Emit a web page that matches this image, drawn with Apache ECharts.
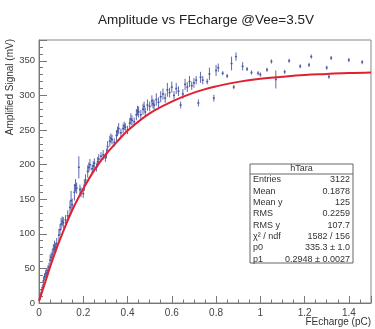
<!DOCTYPE html>
<html><head><meta charset="utf-8">
<script src="https://cdn.jsdelivr.net/npm/echarts@6/dist/echarts.min.js"></script>
<style>html,body{margin:0;padding:0;background:#fff}#c{width:375px;height:329px}</style>
</head><body><div id="c"></div>
<script>
// Profile points: charge (pC), mean amplitude (mV), error (mV)
const charge = [0.005,0.01,0.015,0.02,0.025,0.03,0.035,0.04,0.045,0.05,0.055,0.06,0.065,0.07,0.075,0.08,0.09,0.095,0.10,0.105,0.11,0.12,0.13,0.14,0.145,0.15,0.16,0.165,0.17,0.18,0.185,0.19,0.20,0.205,0.21,0.22,0.225,0.23,0.24,0.245,0.25,0.26,0.265,0.27,0.28,0.29,0.30,0.305,0.31,0.32,0.325,0.33,0.34,0.35,0.355,0.36,0.37,0.38,0.385,0.39,0.40,0.41,0.415,0.42,0.43,0.44,0.445,0.45,0.46,0.47,0.475,0.48,0.49,0.50,0.51,0.515,0.52,0.53,0.54,0.55,0.56,0.57,0.58,0.59,0.60,0.61,0.62,0.63,0.64,0.65,0.66,0.67,0.68,0.69,0.70,0.71,0.72,0.73,0.74,0.76,0.77,0.79,0.80,0.81,0.83,0.85,0.87,0.88,0.89,0.92,0.94,0.96,0.99,1.00,1.03,1.05,1.07,1.11,1.13,1.18,1.22,1.23,1.30,1.31,1.32,1.40,1.46];
const amplitude = [8,14,22,32,38,42,44,47,52,62,66,70,78,82,80,86,98,106,114,118,116,120,126,138,148,142,160,170,166,196,164,160,158,170,178,190,196,200,194,198,202,196,204,208,212,214,210,216,226,234,238,236,232,242,248,252,246,252,256,254,250,260,266,264,262,272,278,276,272,280,284,276,286,284,292,288,286,294,290,298,302,296,308,304,312,300,310,306,286,302,316,312,320,314,318,322,289,326,322,320,331,296,336,340,332,328,346,312,356,342,338,333,332,330,337,349,323,334,350,342,344,356,340,327,354,351,348];
const amplitudeErr = [4,5,5,6,5,6,5,7,6,8,7,8,7,8,7,8,9,8,9,7,8,7,8,10,14,9,12,9,8,16,7,7,6,8,8,9,7,8,6,7,7,6,7,7,6,7,6,7,8,8,7,7,6,8,7,8,6,7,6,6,6,7,8,7,6,8,7,8,7,8,7,6,8,7,8,7,7,9,7,8,8,7,10,7,8,6,8,7,5,7,8,7,8,6,7,6,5,8,6,4,9,5,8,6,3,3,10,3,6,6,3,3,3,3,3,3,13,3,3,3,3,3,3,3,3,3,3];
// Fit curve
const fitX = [0,0.025,0.05,0.075,0.1,0.15,0.2,0.25,0.3,0.35,0.4,0.5,0.6,0.7,0.8,0.9,1.0,1.1,1.2,1.3,1.4,1.5];
const fitY = [3,27,52,75,96,134,165,192,214,232,249,274,291,304,313,319.5,324,327,329.5,331,332.4,333.2];
// Axis ticks
const xTicks = [0,0.2,0.4,0.6,0.8,1,1.2,1.4];
const yTicks = [0,50,100,150,200,250,300,350];
// Stats box
const statsTitle = 'hTara';
const statNames = ['Entries','Mean','Mean y','RMS','RMS y','\u03c7\u00b2 / ndf','p0','p1'];
const statValues = ['3122','0.1878','125','0.2259','107.7','1582 / 156','335.3 \u00b1 1.0','0.2948 \u00b1 0.0027'];

const pts = charge.map((c,i)=>[c, amplitude[i], amplitudeErr[i]]);
const fit = fitX.map((x,i)=>[x, fitY[i]]);
const F = 'Liberation Sans, Arial, sans-serif';
const ptColor = '#4050a0';

const chart = echarts.init(document.getElementById('c'), null, {renderer:'canvas'});

const statTexts = [];
const rowY0 = 180, rowStep = 11.3;
statNames.forEach((n,i)=>{
  statTexts.push({type:'text', x:253, y:rowY0+i*rowStep, style:{text:n, fontSize:9, fontFamily:F, fill:'#333', textAlign:'left', textVerticalAlign:'middle'}});
  statTexts.push({type:'text', x:350, y:rowY0+i*rowStep, style:{text:statValues[i], fontSize:9, fontFamily:F, fill:'#333', textAlign:'right', textVerticalAlign:'middle'}});
});

chart.setOption({
  animation:false,
  grid:{left:39, right:4, top:40, bottom:26, show:true, borderColor:'#888', borderWidth:1},
  xAxis:{type:'value', min:0, max:1.5, interval:0.2,
    axisLine:{show:true, lineStyle:{color:'#777'}},
    axisTick:{show:true, inside:true, length:7, lineStyle:{color:'#777'}},
    minorTick:{show:true, splitNumber:4, length:3.5, lineStyle:{color:'#777'}},
    splitLine:{show:false},
    axisLabel:{fontSize:10, fontFamily:F, color:'#444', margin:5, showMaxLabel:false,
      formatter:v=> xTicks.includes(Math.round(v*10)/10) ? String(Math.round(v*10)/10) : ''}},
  yAxis:{type:'value', min:0, max:380, interval:50,
    axisLine:{show:true, lineStyle:{color:'#777'}},
    axisTick:{show:true, inside:true, length:8, lineStyle:{color:'#777'}},
    minorTick:{show:true, splitNumber:5, length:4, lineStyle:{color:'#777'}},
    splitLine:{show:false},
    axisLabel:{fontSize:9.5, fontFamily:F, color:'#444', margin:4, showMaxLabel:false,
      formatter:v=> yTicks.includes(v) ? String(v) : ''}},
  series:[
    {type:'custom', data:pts, encode:{x:0,y:1}, z:2,
     renderItem:function(params, api){
       const x=api.value(0), y=api.value(1), e=api.value(2);
       const t=api.coord([x,y+e]), b=api.coord([x,y-e]), m=api.coord([x,y]);
       return {type:'group', children:[
         {type:'line', shape:{x1:t[0],y1:t[1],x2:b[0],y2:b[1]}, style:{stroke:ptColor, lineWidth:1, opacity:0.85}},
         {type:'line', shape:{x1:m[0]-1,y1:m[1],x2:m[0]+1,y2:m[1]}, style:{stroke:ptColor, lineWidth:1.5, opacity:0.9}}
       ]};
     }},
    {type:'line', data:fit, smooth:0.4, showSymbol:false, z:5, lineStyle:{color:'#e02030', width:2}}
  ],
  graphic:[
    {type:'text', x:206, y:20, style:{text:'Amplitude vs FEcharge @Vee=3.5V', fontSize:13.5, fontFamily:F, fill:'#222', textAlign:'center', textVerticalAlign:'middle'}},
    {type:'text', x:10, y:39, rotation:Math.PI/2, style:{text:'Amplified Signal (mV)', fontSize:10, fontFamily:F, fill:'#333', textAlign:'right', textVerticalAlign:'middle'}},
    {type:'text', x:371, y:322, style:{text:'FEcharge (pC)', fontSize:10, fontFamily:F, fill:'#333', textAlign:'right', textVerticalAlign:'middle'}},
    {type:'rect', x:250, y:164, shape:{width:103, height:99}, style:{fill:'#fff', stroke:'#666', lineWidth:1}, z:10},
    {type:'line', shape:{x1:250,y1:174,x2:353,y2:174}, style:{stroke:'#666', lineWidth:1}, z:11},
    {type:'text', x:301.5, y:169, style:{text:statsTitle, fontSize:9, fontFamily:F, fill:'#333', textAlign:'center', textVerticalAlign:'middle'}, z:11}
  ].concat(statTexts.map(t=>Object.assign(t,{z:11})))
});
</script></body></html>
